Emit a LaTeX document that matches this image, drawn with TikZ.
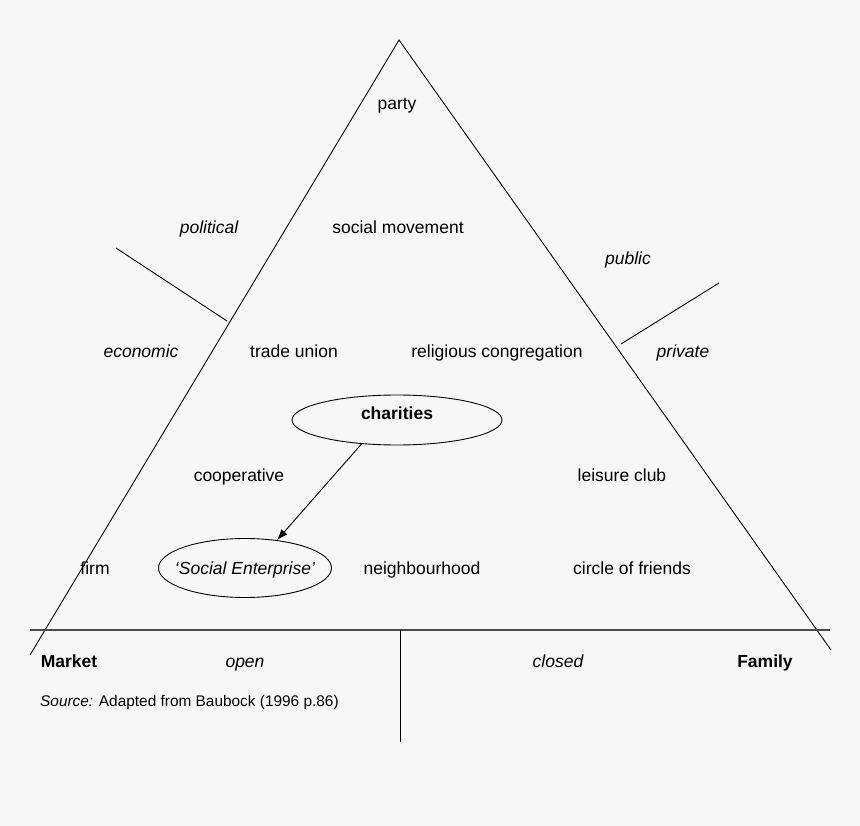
\documentclass[tikz,border=0pt]{standalone}
\usepackage{fontspec}
\setmainfont{Liberation Sans}
\usetikzlibrary{arrows.meta,shapes.geometric}
\definecolor{bg}{HTML}{F7F7F7}
\definecolor{rulegray}{HTML}{4A4A4A}

\begin{document}
\begin{tikzpicture}[x=1pt,y=-1pt,font=\fontsize{17.5}{21}\selectfont,
  every node/.style={text height=12.5pt,text depth=0pt}]
\tikzstyle{oval}=[draw,shape=ellipse,inner xsep=-20pt,inner ysep=0pt,line width=0.9pt]
\tikzstyle{edge}=[line width=0.9pt]
\fill[bg] (0,0) rectangle (860,826);
\useasboundingbox (0,0) rectangle (860,826);
% triangle and dividers
\path (399,40) coordinate(top) (30,655) coordinate(bl) (831,650) coordinate(br);
\draw[edge] (bl) -- (top) -- (br);
\path (116,248) coordinate(l1) (227,321) coordinate(l2);
\path (621,344) coordinate(r1) (719,283) coordinate(r2);
\draw[edge] (l1) -- (l2);
\draw[edge] (r1) -- (r2);
\path (30,630) coordinate(h1) (830,630) coordinate(h2) (400,630) coordinate(v1) (400,742) coordinate(v2);
\draw[line width=1.4pt,rulegray] (h1) -- (h2);
\draw[edge] (v1) -- (v2);
% labels
\path (397,103) node(party){party}
      (209,227) node(pol){\itshape political}
      (398,227) node(move){social movement}
      (628,258) node(pub){\itshape public}
      (141,351) node(econ){\itshape economic}
      (294,351) node(union){trade union}
      (497,351) node(relig){religious congregation}
      (683,351) node(priv){\itshape private};
\path (397,420) node[oval,minimum width=210,minimum height=50,text depth=14pt](ch){\bfseries charities};
\path (239,475) node(coop){cooperative}
      (622,475) node(leis){leisure club}
      (95,568) node(firm){firm}
      (422,568) node(neigh){neighbourhood}
      (632,568) node(circ){circle of friends};
\path (245,568) node[oval,minimum width=173,minimum height=59](se){\itshape `Social Enterprise'};
\draw[edge,-{Latex[length=11pt,width=8pt]}] (ch.214) -- (se.41);
% base
\path (69,661) node(mkt){\bfseries Market}
      (245,661) node(open){\itshape open}
      (558,661) node(closed){\itshape closed}
      (765,661) node(fam){\bfseries Family};
\path (40,701) node[anchor=west,inner sep=0pt,text height=11pt,font=\fontsize{15.4}{18}\selectfont](src){{\itshape Source:} Adapted from Baubock (1996 p.86)};
\end{tikzpicture}
\end{document}
